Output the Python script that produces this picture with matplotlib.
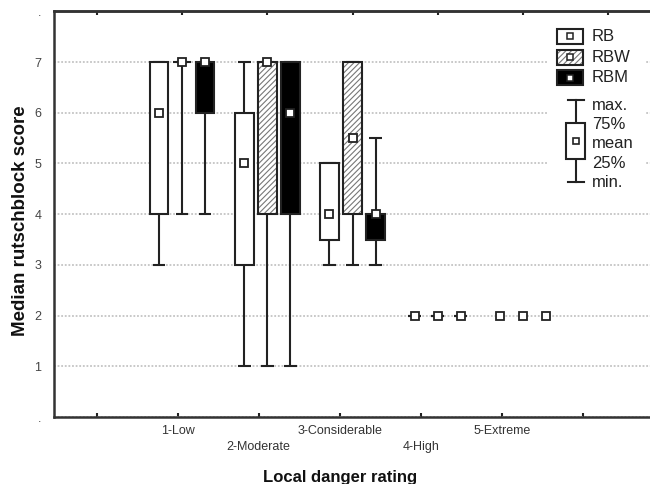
import matplotlib
matplotlib.use('Agg')
from matplotlib import pyplot as plt
from matplotlib.patches import Rectangle

plt.rcParams['font.family'] = ['Liberation Sans', 'DejaVu Sans']
plt.rcParams['hatch.linewidth'] = 0.8

# danger levels (box groups)
groups = [1, 2, 3, 4, 5]
level_labels = ['1-Low', '\n2-Moderate', '3-Considerable', '\n4-High', '5-Extreme']
y_labels = ['.', '1', '2', '3', '4', '5', '6', '7', '.']

# RB
rb_min = [3, 1, 3, 2, 2]
rb_q1 = [4, 3, 3.5, 2, 2]
rb_mean = [6, 5, 4, 2, 2]
rb_q3 = [7, 6, 5, 2, 2]
rb_max = [7, 7, 5, 2, 2]

# RBW
rbw_min = [4, 1, 3, 2, 2]
rbw_q1 = [7, 4, 4, 2, 2]
rbw_mean = [7, 7, 5.5, 2, 2]
rbw_q3 = [7, 7, 7, 2, 2]
rbw_max = [7, 7, 7, 2, 2]

# RBM
rbm_min = [4, 1, 3, 2, 2]
rbm_q1 = [6, 4, 3.5, 2, 2]
rbm_mean = [7, 6, 4, 2, 2]
rbm_q3 = [7, 7, 4, 2, 2]
rbm_max = [7, 7, 5.5, 2, 2]

# 5-Extreme has no whisker caps drawn
caps = [True, True, True, True, False]

EDGE = '#222222'
BOXW = 0.22
CAPW = 0.15
OFF = 0.27


def draw_series(ax, dx, lo, q1, mean, q3, hi, face, hatch=None):
    for g, a, b, m, c, d, cap in zip(groups, lo, q1, mean, q3, hi, caps):
        x = g + dx
        if d > a:
            ax.vlines(x, a, d, color=EDGE, lw=1.5, zorder=2)
        if cap:
            ax.hlines([a, d], x - CAPW / 2, x + CAPW / 2, color=EDGE, lw=1.5, zorder=2)
        if d > a:
            if hatch:
                ax.bar(x, c - b, bottom=b, width=BOXW, color='white', edgecolor='#777777',
                       hatch=hatch, lw=0, zorder=3)
                ax.bar(x, c - b, bottom=b, width=BOXW, fill=False, edgecolor=EDGE,
                       lw=1.5, zorder=3)
            else:
                ax.bar(x, c - b, bottom=b, width=BOXW, color=face, edgecolor=EDGE,
                       lw=1.5, zorder=3)
        ax.plot(x, m, 's', mfc='white', mec=EDGE, ms=5.5, mew=1.3, zorder=5)


fig = plt.figure(figsize=(6.5, 4.84), dpi=100)
ax = fig.add_axes([54 / 650, 67 / 484, 597 / 650, 405.7 / 484])

draw_series(ax, -OFF, rb_min, rb_q1, rb_mean, rb_q3, rb_max, 'white')
draw_series(ax, 0, rbw_min, rbw_q1, rbw_mean, rbw_q3, rbw_max, 'white', hatch='//////')
draw_series(ax, OFF, rbm_min, rbm_q1, rbm_mean, rbm_q3, rbm_max, 'black')

ax.set_xlim(-0.5, 6.5)
ax.set_ylim(0, 8)
ax.set_yticks(range(9))
ax.set_yticklabels(y_labels)
ax.tick_params(axis='y', length=0, pad=9, labelsize=9, labelcolor='#444444')
ax.yaxis.grid(True, color='#c4c4c4', linestyle=(0, (1, 1)), lw=1.3)
ax.set_axisbelow(True)

# bottom ticks are spaced a bit tighter than the groups
ax.set_xticks([0, 0.95, 1.9, 2.85, 3.8, 4.75, 5.7])
ax.set_xticklabels([''] + level_labels + [''])
ax.tick_params(axis='x', direction='in', length=3, width=1.5, color=EDGE, pad=6,
               labelsize=9, labelcolor='#333333')
for lbl in ax.get_xticklabels():
    lbl.set_linespacing(1.45)

top = ax.secondary_xaxis('top')
top.set_xticks(range(7))
top.set_xticklabels([])
top.tick_params(direction='in', length=3, width=1.5, color=EDGE)
top.spines['top'].set_color('#333333')
top.spines['top'].set_linewidth(1.8)

for s in ax.spines.values():
    s.set_color('#333333')
    s.set_linewidth(1.8)

ax.set_xlabel('Local danger rating', fontsize=12, fontweight='bold', color='#111111')
ax.xaxis.set_label_coords(0.48, -0.148)
ax.xaxis.label.set_va('center')
ax.set_ylabel('Median rutschblock score', fontsize=13.5, fontweight='bold', color='#111111')
ax.yaxis.set_label_coords(-0.056, 0.483)
ax.yaxis.label.set_va('center')

# legend drawn by hand in axes coordinates
T = ax.transAxes
ax.add_patch(Rectangle((0.828, 0.553), 0.16, 0.42, transform=T, color='white', zorder=6))
leg_y = [0.939, 0.887, 0.836]
for name, y, face, hatch in zip(['RB', 'RBW', 'RBM'], leg_y,
                                ['white', 'white', 'black'], [None, '//////', None]):
    if hatch:
        ax.add_patch(Rectangle((0.843, y - 0.0185), 0.0435, 0.037, transform=T, fc='white',
                               ec='#777777', hatch=hatch, lw=0, zorder=7))
        ax.add_patch(Rectangle((0.843, y - 0.0185), 0.0435, 0.037, transform=T, fill=False,
                               ec=EDGE, lw=1.5, zorder=7))
    else:
        ax.add_patch(Rectangle((0.843, y - 0.0185), 0.0435, 0.037, transform=T, fc=face,
                               ec=EDGE, lw=1.5, zorder=7))
    ax.plot(0.8645, y, 's', transform=T, mfc='white', mec=EDGE, ms=4, mew=1.1, zorder=8)
    ax.text(0.901, y, name, transform=T, fontsize=12, va='center', color='#222222', zorder=8)

kx = 0.874
ax.plot([kx, kx], [0.579, 0.781], transform=T, color=EDGE, lw=1.5, zorder=7)
for cy in [0.579, 0.781]:
    ax.plot([kx - 0.0135, kx + 0.0135], [cy, cy], transform=T, color=EDGE, lw=1.5, zorder=7)
ax.add_patch(Rectangle((kx - 0.016, 0.636), 0.032, 0.0887, transform=T, fc='white',
                       ec=EDGE, lw=1.5, zorder=8))
ax.plot(kx, 0.680, 's', transform=T, mfc='white', mec=EDGE, ms=5, mew=1.2, zorder=9)
for txt, y in zip(['max.', '75%', 'mean', '25%', 'min.'], [0.769, 0.720, 0.675, 0.626, 0.579]):
    ax.text(0.901, y, txt, transform=T, fontsize=12, va='center', color='#222222', zorder=9)

fig.savefig('out.png', dpi=100)
